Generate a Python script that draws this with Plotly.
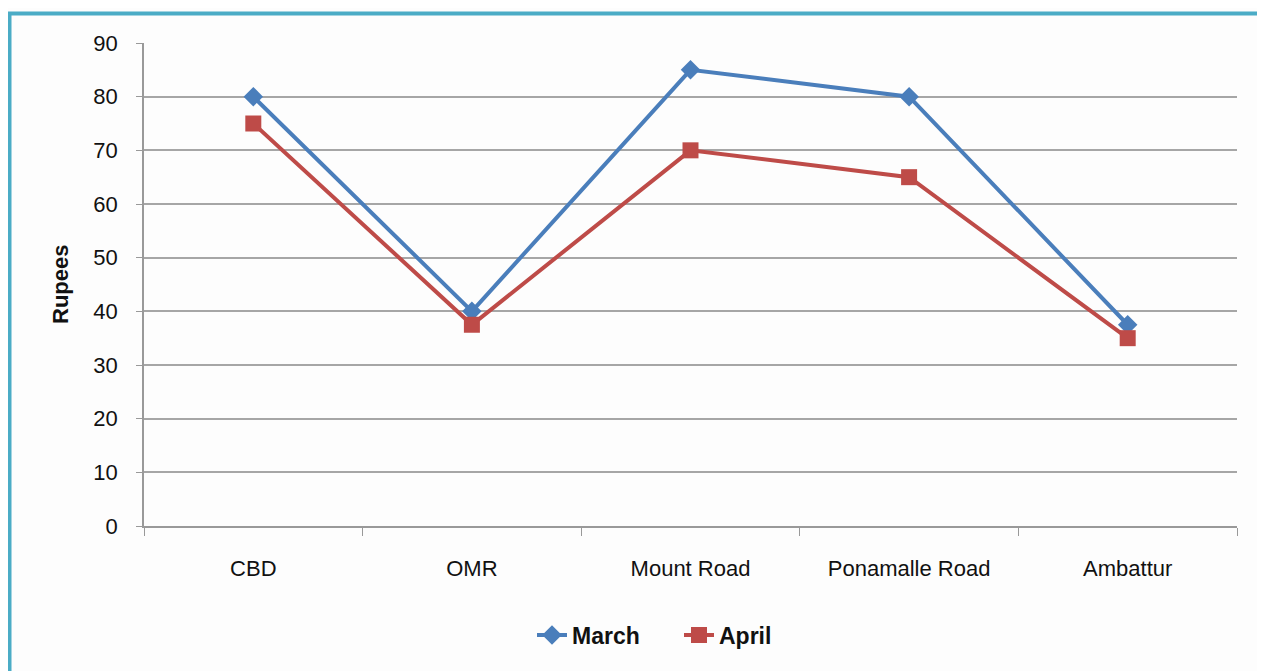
import plotly.graph_objects as go

categories = ["CBD", "OMR", "Mount Road", "Ponamalle Road", "Ambattur"]
march = [80, 40, 85, 80, 37.5]
april = [75, 37.5, 70, 65, 35]
y_ticks = [0, 10, 20, 30, 40, 50, 60, 70, 80, 90]

FONT = "Liberation Sans Narrow, Arial Narrow, Liberation Sans, Arial"

fig = go.Figure()
fig.add_trace(go.Scatter(
    x=categories, y=march, name="March", mode="lines+markers",
    line=dict(color="#4a7ebb", width=4),
    marker=dict(symbol="diamond", size=15, color="#4a7ebb"),
))
fig.add_trace(go.Scatter(
    x=categories, y=april, name="April", mode="lines+markers",
    line=dict(color="#be4b48", width=4),
    marker=dict(symbol="square", size=16, color="#be4b48"),
))

# page offset from default body margin
OFF = 8
W, H = 1265, 671
# desired plot area in page pixels
PL, PR, PT, PB = 144, 1237, 43, 526
L = PL - OFF
R = (OFF + W) - PR
T = PT - OFF
B = (OFF + H) - PB
pw = PR - PL
ph = PB - PT

def px_x(x):
    return (x - PL) / pw

def px_y(y):
    return (PB - y) / ph

fig.update_layout(
    width=W, height=H,
    margin=dict(l=L, r=R, t=T, b=B),
    paper_bgcolor="#fdfdfd", plot_bgcolor="#fdfdfd",
    font=dict(family=FONT, size=22, color="#111111"),
    showlegend=True,
    legend=dict(orientation="h", x=px_x(679), xanchor="center", y=px_y(635), yanchor="middle",
                font=dict(family=FONT, size=23, color="#111111", weight="bold"),
                traceorder="normal", entrywidth=102, bgcolor="rgba(0,0,0,0)"),
    xaxis=dict(type="category", range=[-0.5, 4.5], tickson="boundaries",
               ticks="outside", ticklen=8, tickcolor="#999999",
               showline=True, linecolor="#999999", linewidth=1.5,
               showgrid=False, zeroline=False, ticklabelstandoff=22,
               tickfont=dict(family=FONT, size=22, color="#111111")),
    yaxis=dict(range=[0, 90], tickvals=y_ticks, ticks="outside", ticklen=6,
               tickcolor="#999999", showline=True, linecolor="#999999", linewidth=1.5,
               showgrid=True, gridcolor="#a6a6a6", gridwidth=1.5, zeroline=False,
               ticklabelstandoff=14,
               tickfont=dict(family=FONT, size=22, color="#111111")),
    annotations=[dict(text="<b>Rupees</b>", textangle=-90, xref="paper", yref="paper",
                      x=px_x(60), y=px_y(285), xanchor="center", showarrow=False,
                      font=dict(family=FONT, size=22, color="#111111"))],
    shapes=[dict(type="rect", xref="paper", yref="paper",
                 x0=px_x(9.5), x1=px_x(1262.5), y0=px_y(700), y1=px_y(13.5),
                 line=dict(color="#4bacc6", width=4), layer="below")],
)

fig.write_html("out.html")
